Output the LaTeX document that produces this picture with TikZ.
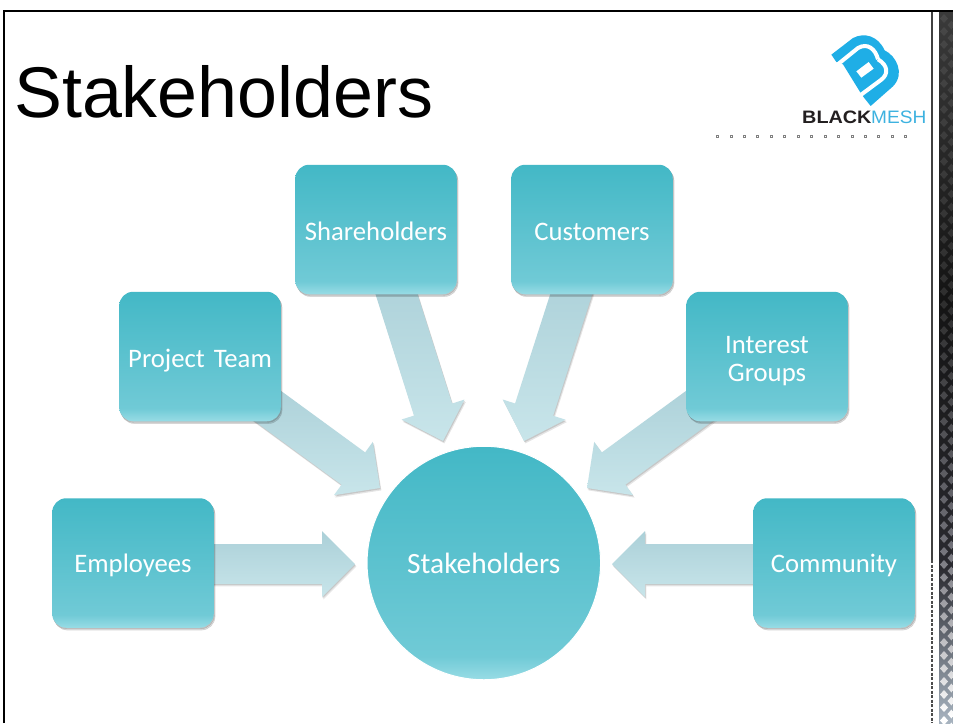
\documentclass[tikz,border=0pt]{standalone}
\usepackage{fontspec}
\setmainfont{Carlito}
\newfontfamily\titlefont{Liberation Sans}
\usetikzlibrary{calc,shadows}
\definecolor{topteal}{HTML}{43B8C6}
\definecolor{midteal}{HTML}{70CAD6}
\definecolor{lowteal}{HTML}{98DCE5}
\definecolor{arrowtop}{HTML}{ABD0D8}
\definecolor{arrowlow}{HTML}{C8E5EA}
\definecolor{logoblue}{HTML}{1FAEE6}
\definecolor{logotext}{HTML}{3DB2E0}
\definecolor{logoblack}{HTML}{231F20}
\pgfdeclareverticalshading{boxshade}{100bp}{color(0bp)=(lowteal); color(25bp)=(lowteal); color(30bp)=(midteal); color(75bp)=(topteal); color(100bp)=(topteal)}
\pgfdeclareverticalshading{arrowshade}{100bp}{color(0bp)=(arrowlow); color(25bp)=(arrowlow); color(75bp)=(arrowtop); color(100bp)=(arrowtop)}
\definecolor{sa}{HTML}{3A3A3A}\definecolor{sb}{HTML}{141414}\definecolor{sc}{HTML}{2A2A30}\definecolor{sd}{HTML}{A8B4C0}
\definecolor{da}{HTML}{484848}\definecolor{db}{HTML}{2E2E2E}\definecolor{dc}{HTML}{707078}\definecolor{dd}{HTML}{FFFFFF}
\pgfdeclareverticalshading{stripeshade}{100bp}{color(0bp)=(sd); color(25bp)=(sd); color(36bp)=(sc); color(55bp)=(sb); color(75bp)=(sa); color(100bp)=(sa)}
\pgfdeclareverticalshading{diamondshade}{100bp}{color(0bp)=(dd); color(26bp)=(dd); color(38bp)=(dc); color(55bp)=(db); color(75bp)=(da); color(100bp)=(da)}
\newcommand\lbl[1]{\raisebox{-9pt}[0pt][0pt]{#1}}
\newcommand\lblup[1]{\raisebox{-10.5pt}[0pt][0pt]{#1}}
\tikzset{
  stakebox/.style={rounded corners=14pt,minimum width=161.5pt,minimum height=129.5pt,inner sep=2pt,
    shading=boxshade,text=white,align=center,font=\fontsize{26.7}{28}\selectfont,text width=150pt,
    double copy shadow={fill=black,opacity=.13,shadow xshift=.7pt,shadow yshift=-1.2pt}},
  hubcircle/.style={circle,minimum size=233.5pt,inner sep=0pt,shading=boxshade,draw=white,line width=1pt,text=white,font=\fontsize{29.4}{32}\selectfont},
  arrowbody/.style={shading=arrowshade},
  arrowshadow/.style={fill=black,opacity=.13,transform canvas={xshift=.7pt,yshift=-1.2pt}},
  arrowshadowwide/.style={fill=black,opacity=.1,transform canvas={xshift=1.4pt,yshift=-2.4pt}},
  frame/.style={black,line width=2pt},
  dotmark/.style={draw=gray,line width=.5pt,fill=white}
}
\newcommand\arrowoutline[2]{($(s)!20pt!90:(b)$) -- ($(b)!20pt!-90:(s)$) -- ($(b)!33pt!-90:(s)$) -- (#2) -- ($(b)!33pt!90:(s)$) -- ($(b)!20pt!90:(s)$) -- ($(s)!20pt!-90:(b)$) -- cycle}
\newcommand\blockarrow[3]{%
  \coordinate (s) at ($(#1)!#3!(#2)$);
  \coordinate (b) at ($(#2)!33pt!(#1)$);
  \path[arrowshadowwide] \arrowoutline{#1}{#2};
  \path[arrowshadow] \arrowoutline{#1}{#2};
  \path[arrowbody] \arrowoutline{#1}{#2};
}
\begin{document}
\begin{tikzpicture}[x=1pt,y=-1pt]
\useasboundingbox (0,0) rectangle (953,723);
\fill[white] (0,0) rectangle (953,723);
% slide frame and right-hand texture
\path[shading=stripeshade] (939,12) rectangle (953,723);
\path[shading=diamondshade]
  \foreach \k in {0,...,54} {
    (944,{14+13*\k}) -- (948,{18.5+13*\k}) -- (944,{23+13*\k}) -- (940,{18.5+13*\k}) -- cycle
    (951.5,{20.5+13*\k}) -- (953,{22.2+13*\k}) -- (953,{27.8+13*\k}) -- (951.5,{29.5+13*\k}) -- (947.5,{25+13*\k}) -- cycle
  };
\draw[frame] (4,723) -- (4,11) -- (953,11);
\draw[black!75,line width=1.5pt] (932,12) -- (932,560);
\draw[black!70,line width=1.5pt,dash pattern=on 3pt off 1.5pt] (932,560) -- (932,723);
% title
\node[anchor=base west,inner sep=0pt,font=\titlefont\fontsize{71.8}{74}\selectfont] (title) at (14,117) {Stakeholders};
% logo
\begin{scope}[shift={(828,32)},x=.3333pt,y=-.3333pt]
  \fill[logoblue] (10,68) -- (75,18) .. controls (110,0) and (150,12) .. (170,55)
    .. controls (205,72) and (232,125) .. (195,163) -- (128,222) -- (108,197) -- (95,178) -- (45,97) -- (25,90) -- cycle;
  \draw[white,line width=4pt] (22,103) -- (90,48) .. controls (118,32) and (142,50) .. (150,82);
  \fill[white] (85,118) -- (122,90) -- (137,110) -- (100,137) -- cycle;
  \draw[white,line width=4pt] (90,195) -- (160,143) .. controls (182,126) and (180,100) .. (150,82);
\end{scope}
\node[anchor=base west,inner sep=0pt,text=logoblack,xscale=1.1,font=\titlefont\bfseries\fontsize{18}{20}\selectfont] (logoa) at (802,123) {BLACK};
\node[anchor=base west,inner sep=0pt,text=logotext,xscale=1.06,font=\titlefont\fontsize{18}{20}\selectfont] (logob) at (871,123) {MESH};
\foreach \k in {0,...,14} \draw[dotmark] ({717.3+13.45*\k-1},135) rectangle ({717.3+13.45*\k+1},137.2);
% box centres, arrow starts and arrow tips
\coordinate (hubc) at (483.8,563);
\coordinate (empc) at (133,563);
\coordinate (comc) at (834,563);
\coordinate (emps) at (133,564);
\coordinate (coms) at (834,564);
\coordinate (proc) at (200,356.5);
\coordinate (intc) at (767,356.5);
\coordinate (shac) at (376,229.5);
\coordinate (cusc) at (592,229.5);
\coordinate (tipe) at (355,564);
\coordinate (tipc) at (612,564);
\coordinate (tipp) at (380,488);
\coordinate (tipi) at (587,488);
\coordinate (tips) at (443,441);
\coordinate (tipu) at (524,441);
\blockarrow{emps}{tipe}{.3}
\blockarrow{coms}{tipc}{.3}
\blockarrow{proc}{tipp}{.3}
\blockarrow{intc}{tipi}{.3}
\blockarrow{shac}{tips}{.2}
\blockarrow{cusc}{tipu}{.2}
\node[stakebox] (emp) at (empc) {\lbl{Employees}};
\node[stakebox] (com) at (comc) {\lbl{Community}};
\node[stakebox] (pro) at (proc) {\lblup{Project Team}};
\node[stakebox] (int) at (intc) {\raisebox{-11.5pt}[0pt][0pt]{\begin{tabular}{@{}c@{}}Interest\\Groups\end{tabular}}};
\node[stakebox] (sha) at (shac) {\lblup{Shareholders}};
\node[stakebox] (cus) at (cusc) {\lblup{Customers}};
\node[hubcircle] (hub) at (hubc) {Stakeholders};
\end{tikzpicture}
\end{document}
